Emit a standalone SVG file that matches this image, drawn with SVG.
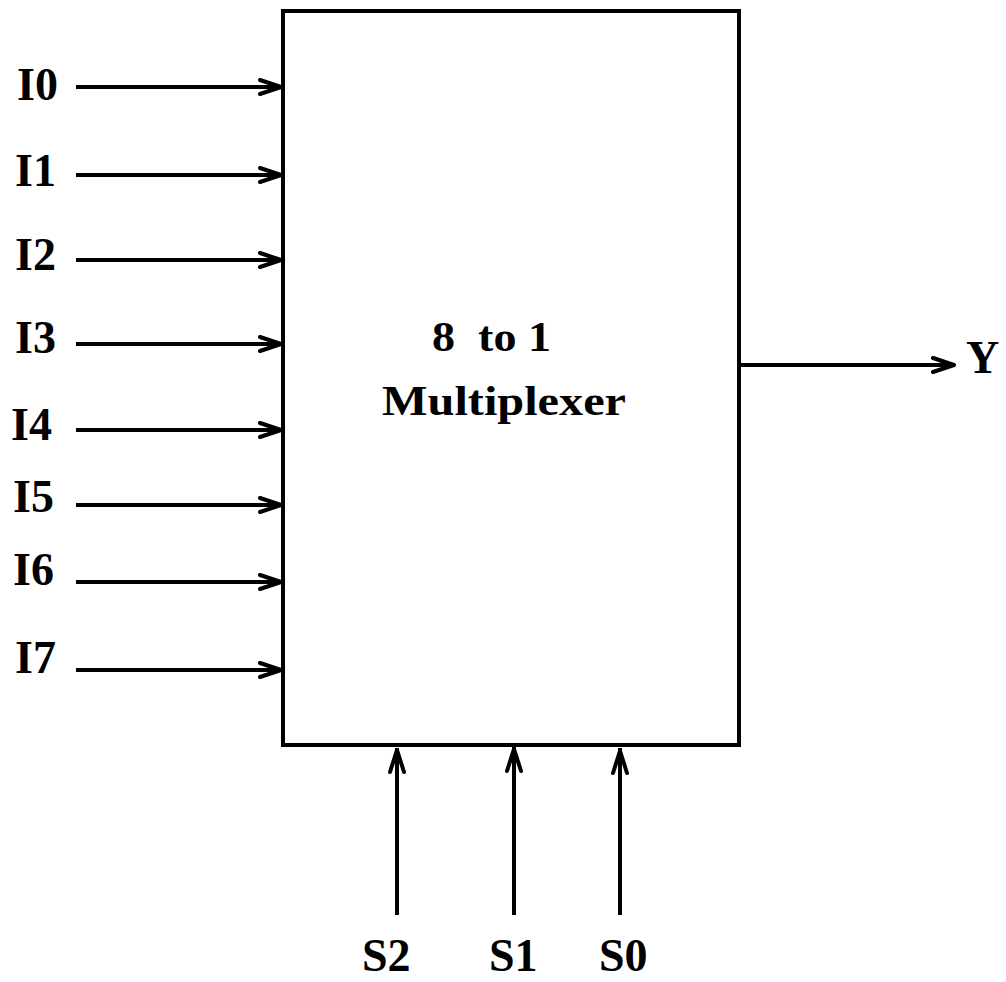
<svg xmlns="http://www.w3.org/2000/svg" width="1006" height="982" viewBox="0 0 1006 982">
<style>
.t{font-family:"Liberation Serif","Times New Roman",serif;font-weight:bold;fill:#000}
.lbl{font-size:46px}
.mid{font-size:42px}
.w{stroke:#000;stroke-width:4;fill:none}
.h{stroke:#000;stroke-width:4;fill:none;stroke-linecap:round;stroke-linejoin:round}
</style>
<rect width="1006" height="982" fill="#fff"/>
<g id="mux">
<rect x="283" y="11" width="456" height="734" fill="#fff" stroke="#000" stroke-width="4"/>
<text class="t mid" x="432" y="351" textLength="119" lengthAdjust="spacingAndGlyphs" xml:space="preserve">8  to 1</text>
<text class="t mid" x="382" y="415" textLength="244" lengthAdjust="spacingAndGlyphs">Multiplexer</text>
</g>
<g id="labels">
<text class="t lbl" x="17" y="100">I0</text>
<text class="t lbl" x="15" y="186">I1</text>
<text class="t lbl" x="15" y="270">I2</text>
<text class="t lbl" x="15" y="353">I3</text>
<text class="t lbl" x="11" y="440">I4</text>
<text class="t lbl" x="13" y="512">I5</text>
<text class="t lbl" x="13" y="585">I6</text>
<text class="t lbl" x="15" y="673">I7</text>
<text class="t lbl" x="966" y="373">Y</text>
<text class="t lbl" x="362" y="971">S2</text>
<text class="t lbl" x="489" y="971">S1</text>
<text class="t lbl" x="599" y="971">S0</text>
</g>
<g id="connectors">
<path class="w" d="M76 87H281M76 175H281M76 260H281M76 344H281M76 430H281M76 505H281M76 582H281M76 670H281M739 365H954M397 915V748M514 915V746M620 915V748"/>
<path class="h" d="M260 80L281 87L260 94M260 168L281 175L260 182M260 253L281 260L260 267M260 337L281 344L260 351M260 423L281 430L260 437M260 498L281 505L260 512M260 575L281 582L260 589M260 663L281 670L260 677M933 358L954 365L933 372M390 772L397 750L404 772M507 771L514 749L521 771M613 773L620 751L627 773"/>
</g>
</svg>
